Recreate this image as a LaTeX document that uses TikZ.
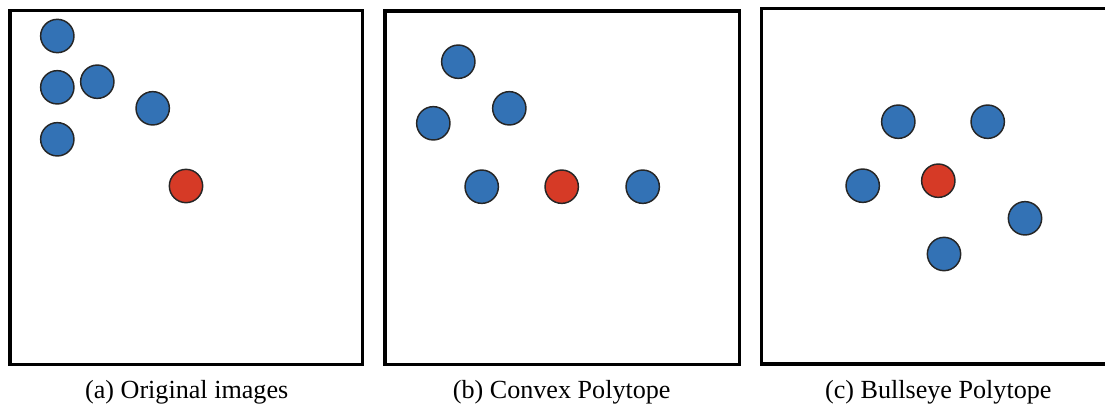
\documentclass[tikz,border=0pt]{standalone}
\usepackage{fontspec}
\setmainfont{Liberation Serif}
\definecolor{ptblue}{RGB}{51,114,181}
\definecolor{ptred}{RGB}{214,58,38}
\tikzset{
  frame/.style={draw=black, line width=2.3pt},
  pt/.style={circle, draw=black!85, line width=1.1pt, minimum size=25pt, inner sep=0pt},
  bluept/.style={pt, fill=ptblue},
  redpt/.style={pt, fill=ptred},
  caption/.style={font=\fontsize{19.6}{22}\selectfont, inner sep=0pt}
}
\begin{document}
\begin{tikzpicture}[x=0.75pt, y=-0.75pt]
\useasboundingbox (0,0) rectangle (1105,407);
\clip (0,0) rectangle (1105,407);
% panel (a): original images
\draw[frame] (10,10.5) rectangle (362.5,364.3);
\node[bluept] (a1) at (57.3,36) {};
\node[bluept] (a2) at (57.3,87.3) {};
\node[bluept] (a3) at (97.3,81.7) {};
\node[bluept] (a4) at (152.7,108.3) {};
\node[bluept] (a5) at (57.3,139.3) {};
\node[redpt] (at) at (186,186) {};
\node[caption] (capa) at (186.7,392.5) {(a) Original images};
% panel (b): convex polytope
\draw[frame] (385,11) rectangle (739.3,364.3);
\node[bluept] (b1) at (458.3,61.7) {};
\node[bluept] (b2) at (433.3,123.3) {};
\node[bluept] (b3) at (509.3,108.3) {};
\node[bluept] (b4) at (481.7,186.7) {};
\node[redpt] (bt) at (561.7,186.7) {};
\node[bluept] (b5) at (642.7,186.7) {};
\node[caption] (capb) at (561.7,392.5) {(b) Convex Polytope};
% panel (c): bullseye polytope (frame runs past the right edge)
\draw[frame] (761.7,8.7) rectangle (1120,364);
\node[bluept] (c1) at (898.3,121.7) {};
\node[bluept] (c2) at (987.7,121.7) {};
\node[bluept] (c3) at (862.7,185.7) {};
\node[redpt] (ct) at (938.3,180.7) {};
\node[bluept] (c4) at (1025,218.3) {};
\node[bluept] (c5) at (944,254) {};
\node[caption] (capc) at (938.3,392.5) {(c) Bullseye Polytope};
\end{tikzpicture}
\end{document}
